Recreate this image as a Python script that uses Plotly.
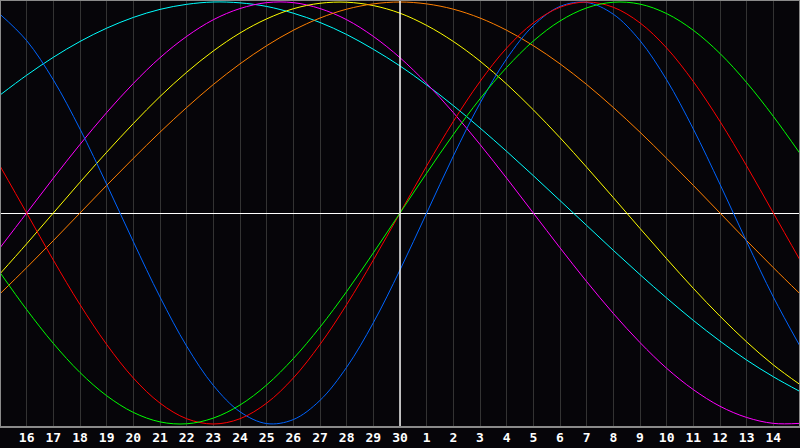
import plotly.graph_objects as go

# Day labels along the bottom (index 0 = day 15 of previous month, index 15 = day 30)
day_labels = ["16", "17", "18", "19", "20", "21", "22", "23", "24", "25", "26", "27", "28", "29", "30",
              "1", "2", "3", "4", "5", "6", "7", "8", "9", "10", "11", "12", "13", "14"]
day_index = list(range(31))
label_index = list(range(1, 30))
today_index = 15

# Cycle values read per day (-1 .. 1)
blue = [0.942, 0.817, 0.631, 0.398, 0.136, -0.136, -0.398, -0.631, -0.817, -0.942, -0.998, -0.979, -0.888,
        -0.731, -0.520, -0.270, 0.000, 0.270, 0.520, 0.731, 0.888, 0.979, 0.998, 0.942, 0.817, 0.631, 0.398,
        0.136, -0.136, -0.398, -0.631]
red = [0.223, 0.000, -0.223, -0.434, -0.623, -0.782, -0.901, -0.975, -1.000, -0.975, -0.901, -0.782, -0.623,
       -0.434, -0.223, 0.000, 0.223, 0.434, 0.623, 0.782, 0.901, 0.975, 1.000, 0.975, 0.901, 0.782, 0.623,
       0.434, 0.223, 0.000, -0.223]
green = [-0.282, -0.458, -0.618, -0.756, -0.866, -0.945, -0.990, -0.999, -0.972, -0.910, -0.815, -0.690,
         -0.541, -0.372, -0.189, 0.000, 0.189, 0.372, 0.541, 0.690, 0.815, 0.910, 0.972, 0.999, 0.990, 0.945,
         0.866, 0.756, 0.618, 0.458, 0.282]
magenta = [-0.165, 0.000, 0.165, 0.325, 0.476, 0.614, 0.736, 0.837, 0.916, 0.969, 0.997, 0.997, 0.969, 0.916,
           0.837, 0.736, 0.614, 0.476, 0.325, 0.165, 0.000, -0.165, -0.325, -0.476, -0.614, -0.736, -0.837,
           -0.916, -0.969, -0.997, -0.997]
yellow = [-0.288, -0.146, 0.000, 0.146, 0.288, 0.424, 0.552, 0.667, 0.768, 0.853, 0.920, 0.968, 0.994, 0.999,
          0.983, 0.947, 0.889, 0.813, 0.720, 0.611, 0.489, 0.357, 0.217, 0.073, -0.073, -0.217, -0.357,
          -0.489, -0.611, -0.720, -0.813]
orange = [-0.383, -0.259, -0.131, 0.000, 0.131, 0.259, 0.383, 0.500, 0.609, 0.707, 0.793, 0.866, 0.924, 0.966,
          0.991, 1.000, 0.991, 0.966, 0.924, 0.866, 0.793, 0.707, 0.609, 0.500, 0.383, 0.259, 0.131, 0.000,
          -0.131, -0.259, -0.383]
cyan = [0.559, 0.653, 0.738, 0.813, 0.876, 0.927, 0.965, 0.989, 1.000, 0.996, 0.979, 0.947, 0.903, 0.846,
        0.776, 0.697, 0.607, 0.509, 0.403, 0.292, 0.177, 0.059, -0.059, -0.177, -0.292, -0.403, -0.509,
        -0.607, -0.697, -0.776, -0.846]

series = [
    ("cyan", cyan, "#00ffff"),
    ("magenta", magenta, "#ff00ff"),
    ("yellow", yellow, "#ffff00"),
    ("orange", orange, "#ff7f00"),
    ("blue", blue, "#0064ff"),
    ("red", red, "#ff0000"),
    ("green", green, "#00ff00"),
]

BG = "#060509"

fig = go.Figure()
for name, vals, col in series:
    fig.add_trace(go.Scatter(x=day_index, y=vals, mode="lines", name=name,
                             line=dict(color=col, width=1, shape="spline"),
                             hoverinfo="skip"))

# centre vertical white line (today)
fig.add_vline(x=today_index, line_color="#ffffff", line_width=1.4, layer="above")
# frame
fig.add_shape(type="rect", xref="paper", yref="paper", x0=0, x1=1, y0=0, y1=1,
              line=dict(color="#8a8a8a", width=2), layer="above")

fig.update_layout(
    width=800, height=448,
    margin=dict(l=0, r=0, t=0, b=21),
    paper_bgcolor=BG, plot_bgcolor=BG,
    showlegend=False,
    xaxis=dict(range=[0, 30], tickmode="array", tickvals=label_index, ticktext=day_labels,
               showgrid=True, gridcolor="#333333", gridwidth=1, zeroline=False,
               ticks="", showline=False, ticklabelstandoff=1,
               tickfont=dict(family="DejaVu Sans Mono", size=13, color="#ffffff", weight="bold")),
    yaxis=dict(range=[-1.0142, 1.0095], showgrid=False, showticklabels=False, ticks="",
               zeroline=True, zerolinecolor="#ffffff", zerolinewidth=1),
)

fig.write_html("out.html", config={"displayModeBar": False},
               post_script="document.body.style.margin='0';document.body.style.background='" + BG + "';")
